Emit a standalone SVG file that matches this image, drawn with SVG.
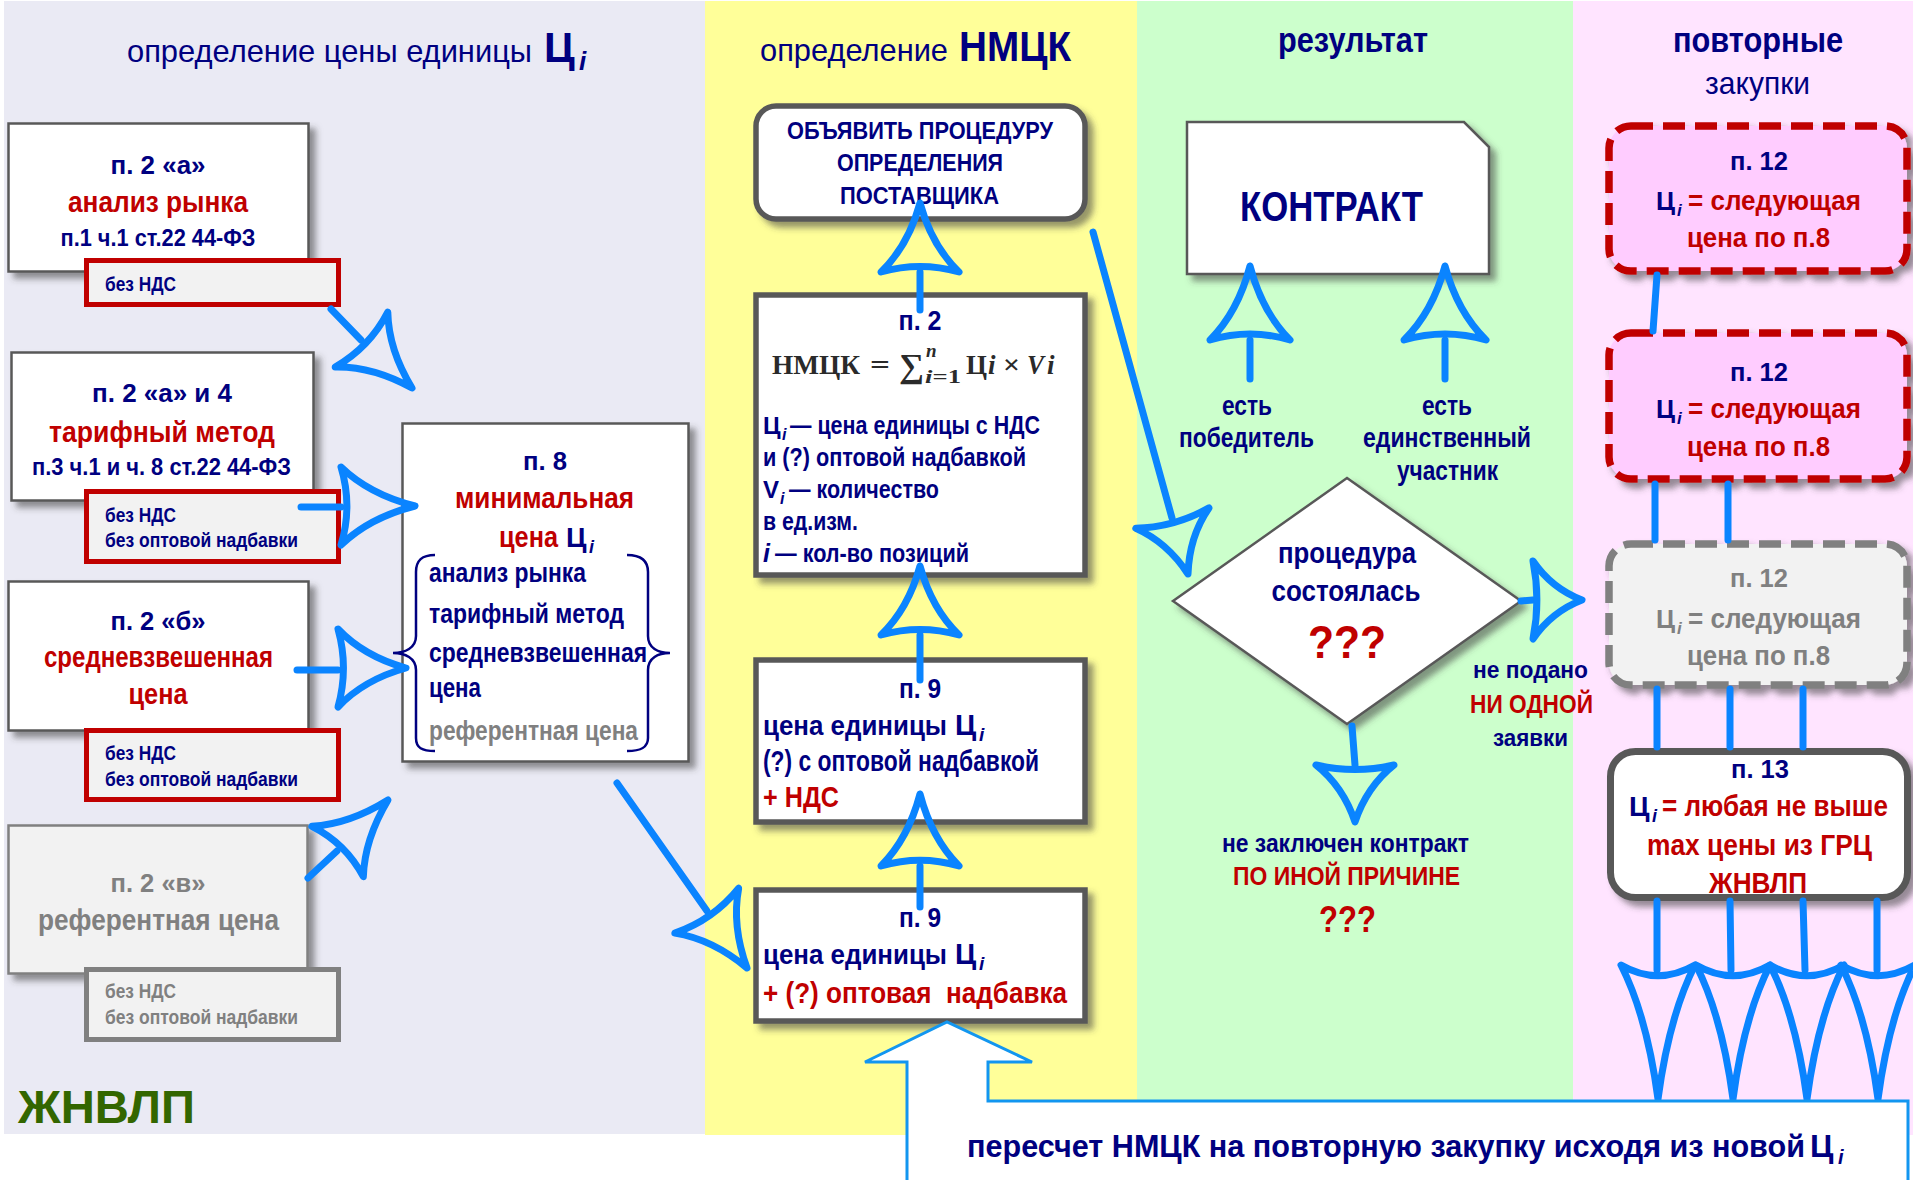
<svg xmlns="http://www.w3.org/2000/svg" width="1913" height="1180" viewBox="0 0 1913 1180">
<defs>
<filter id="sh" x="-10%" y="-10%" width="130%" height="140%">
<feDropShadow dx="6" dy="6" stdDeviation="3" flood-color="#404040" flood-opacity="0.55"/>
</filter>
<style>
.s{font-family:"Liberation Sans",Arial,sans-serif}
.sf{font-family:"Liberation Serif","Times New Roman",serif;fill:#2a2a2a}
.b{font-weight:700}
.it{font-style:italic}
.m{text-anchor:middle}
.nv{fill:#000080}
.rd{fill:#C00000}
.gr{fill:#808080}
.box{fill:#fff;stroke:#595959;stroke-width:2.5}
.tbox{fill:#fff;stroke:#595959;stroke-width:5.5}
.sub{fill:#F2F2F2;stroke:#C00000;stroke-width:5}
.subg{fill:#F2F2F2;stroke:#808080;stroke-width:5}
.pk{fill:#FFCCFF;stroke:#C00000;stroke-width:7.5;stroke-dasharray:22 10}
.pg{fill:#F2F2F2;stroke:#808080;stroke-width:7.5;stroke-dasharray:22 10}
.ln{fill:none;stroke:#0A84FF;stroke-width:7;stroke-linecap:round}
.hd{fill:none;stroke:#0A84FF;stroke-width:7;stroke-linejoin:round}
.br{fill:none;stroke:#000080;stroke-width:2.5}
</style>
</defs>

<g id="panels">
<rect x="4" y="1" width="701" height="1133" fill="#EAEAF4"/>
<rect x="705" y="1" width="432" height="1134" fill="#FFFF99"/>
<rect x="1137" y="1" width="436" height="1134" fill="#CCFFCC"/>
<rect x="1573" y="1" width="340" height="1134" fill="#FFE4FF"/>
</g>

<g id="titles">
<text class="s nv" x="127" y="62" font-size="32" textLength="405" lengthAdjust="spacingAndGlyphs">определение цены единицы</text>
<text class="s nv b" x="544" y="62" font-size="42">Ц</text>
<text class="s nv b it" x="579" y="70" font-size="26">i</text>
<text class="s nv" x="760" y="61" font-size="32" textLength="188" lengthAdjust="spacingAndGlyphs">определение</text>
<text class="s nv b" x="959" y="61" font-size="43" textLength="112" lengthAdjust="spacingAndGlyphs">НМЦК</text>
<text class="s nv b m" x="1353" y="52" font-size="35" textLength="150" lengthAdjust="spacingAndGlyphs">результат</text>
<text class="s nv b m" x="1758" y="52" font-size="35" textLength="170" lengthAdjust="spacingAndGlyphs">повторные</text>
<text class="s nv m" x="1757.5" y="94" font-size="32" textLength="105" lengthAdjust="spacingAndGlyphs">закупки</text>
<text class="s b" x="18" y="1123" font-size="46" fill="#336600" textLength="177" lengthAdjust="spacingAndGlyphs">ЖНВЛП</text>
</g>

<g id="n-2a">
<rect class="box" x="8.5" y="123.5" width="300" height="148" filter="url(#sh)"/>
<text class="s b nv m" x="158" y="174" font-size="26" textLength="95" lengthAdjust="spacingAndGlyphs">п. 2 «а»</text>
<text class="s b rd m" x="158" y="212" font-size="29" textLength="180" lengthAdjust="spacingAndGlyphs">анализ рынка</text>
<text class="s b nv m" x="158" y="246" font-size="23" textLength="195" lengthAdjust="spacingAndGlyphs">п.1 ч.1 ст.22 44-ФЗ</text>
<rect class="sub" x="86.5" y="260.5" width="252" height="44"/>
<text class="s b nv" x="105" y="291" font-size="20" textLength="71" lengthAdjust="spacingAndGlyphs">без НДС</text>
</g>

<g id="n-2a4">
<rect class="box" x="11.5" y="352.5" width="302" height="148" filter="url(#sh)"/>
<text class="s b nv m" x="162" y="402" font-size="26" textLength="140" lengthAdjust="spacingAndGlyphs">п. 2 «а» и 4</text>
<text class="s b rd m" x="162" y="442" font-size="29" textLength="226" lengthAdjust="spacingAndGlyphs">тарифный метод</text>
<text class="s b nv m" x="161.5" y="475" font-size="23" textLength="259" lengthAdjust="spacingAndGlyphs">п.3 ч.1 и ч. 8 ст.22 44-ФЗ</text>
<rect class="sub" x="86.5" y="491.5" width="252" height="70"/>
<text class="s b nv" x="105" y="522" font-size="20" textLength="71" lengthAdjust="spacingAndGlyphs">без НДС</text>
<text class="s b nv" x="105" y="547" font-size="20" textLength="193" lengthAdjust="spacingAndGlyphs">без оптовой надбавки</text>
</g>

<g id="n-2b">
<rect class="box" x="8.5" y="581.5" width="300" height="149" filter="url(#sh)"/>
<text class="s b nv m" x="158" y="630" font-size="26" textLength="95" lengthAdjust="spacingAndGlyphs">п. 2 «б»</text>
<text class="s b rd m" x="158.5" y="667" font-size="29" textLength="229" lengthAdjust="spacingAndGlyphs">средневзвешенная</text>
<text class="s b rd m" x="158" y="704" font-size="29" textLength="59" lengthAdjust="spacingAndGlyphs">цена</text>
<rect class="sub" x="86.5" y="730.5" width="252" height="69"/>
<text class="s b nv" x="105" y="760" font-size="20" textLength="71" lengthAdjust="spacingAndGlyphs">без НДС</text>
<text class="s b nv" x="105" y="786" font-size="20" textLength="193" lengthAdjust="spacingAndGlyphs">без оптовой надбавки</text>
</g>

<g id="n-2v">
<rect x="8.5" y="825.5" width="299" height="148" fill="#F2F2F2" stroke="#808080" stroke-width="2.5" filter="url(#sh)"/>
<text class="s b gr m" x="158" y="892" font-size="26" textLength="95" lengthAdjust="spacingAndGlyphs">п. 2 «в»</text>
<text class="s b gr m" x="158.5" y="930" font-size="29" textLength="241" lengthAdjust="spacingAndGlyphs">референтная цена</text>
<rect class="subg" x="86.5" y="969.5" width="252" height="70"/>
<text class="s b gr" x="105" y="998" font-size="20" textLength="71" lengthAdjust="spacingAndGlyphs">без НДС</text>
<text class="s b gr" x="105" y="1024" font-size="20" textLength="193" lengthAdjust="spacingAndGlyphs">без оптовой надбавки</text>
</g>

<g id="n-8">
<rect class="box" x="402.5" y="423.5" width="286" height="338" filter="url(#sh)"/>
<text class="s b nv m" x="545" y="470" font-size="26" textLength="44" lengthAdjust="spacingAndGlyphs">п. 8</text>
<text class="s b rd m" x="544.5" y="508" font-size="29" textLength="179" lengthAdjust="spacingAndGlyphs">минимальная</text>
<text class="s b rd" x="499" y="547" font-size="29" textLength="59" lengthAdjust="spacingAndGlyphs">цена</text>
<text class="s b nv" x="566" y="547" font-size="28">Ц</text>
<text class="s b nv it" x="589" y="553" font-size="18">i</text>
<path class="br" d="M435,555 C422,555 416,560 416,572 L416,636 C416,648 405,653 393,653 C405,653 416,658 416,670 L416,738 C416,748 422,751 435,751"/>
<path class="br" d="M627,555 C640,555 648,560 648,572 L648,636 C648,648 658,653 670,653 C658,653 648,658 648,670 L648,738 C648,748 640,751 627,751"/>
<text class="s b nv" x="429" y="582" font-size="27" textLength="157" lengthAdjust="spacingAndGlyphs">анализ рынка</text>
<text class="s b nv" x="429" y="623" font-size="27" textLength="195" lengthAdjust="spacingAndGlyphs">тарифный метод</text>
<text class="s b nv" x="429" y="662" font-size="27" textLength="218" lengthAdjust="spacingAndGlyphs">средневзвешенная</text>
<text class="s b nv" x="429" y="697" font-size="27" textLength="52" lengthAdjust="spacingAndGlyphs">цена</text>
<text class="s b gr" x="429" y="740" font-size="27" textLength="209" lengthAdjust="spacingAndGlyphs">референтная цена</text>
</g>

<g id="n-announce">
<rect class="tbox" x="756" y="106" width="329" height="113" rx="20" filter="url(#sh)"/>
<text class="s b nv m" x="920" y="139" font-size="23" textLength="266" lengthAdjust="spacingAndGlyphs">ОБЪЯВИТЬ ПРОЦЕДУРУ</text>
<text class="s b nv m" x="920" y="171" font-size="23" textLength="166" lengthAdjust="spacingAndGlyphs">ОПРЕДЕЛЕНИЯ</text>
<text class="s b nv m" x="919.5" y="204" font-size="23" textLength="159" lengthAdjust="spacingAndGlyphs">ПОСТАВЩИКА</text>
</g>

<g id="n-p2">
<rect class="tbox" x="756" y="295" width="329" height="280" filter="url(#sh)"/>
<text class="s b nv m" x="920" y="330" font-size="27" textLength="43" lengthAdjust="spacingAndGlyphs">п. 2</text>
<text class="sf b" x="772" y="374" font-size="27" textLength="88" lengthAdjust="spacingAndGlyphs">НМЦК</text>
<text class="sf b" x="870" y="374" font-size="27" textLength="20" lengthAdjust="spacingAndGlyphs">=</text>
<text class="sf b" x="899" y="377" font-size="34" textLength="25" lengthAdjust="spacingAndGlyphs">∑</text>
<text class="sf it b" x="926" y="357" font-size="19">n</text>
<text class="sf b" x="925" y="383" font-size="19" textLength="36" lengthAdjust="spacingAndGlyphs"><tspan font-style="italic">i</tspan>=1</text>
<text class="sf b" x="966" y="374" font-size="27" textLength="21" lengthAdjust="spacingAndGlyphs">Ц</text>
<text class="sf it b" x="988" y="374" font-size="27">i</text>
<text class="sf b" x="1003" y="374" font-size="27" textLength="17" lengthAdjust="spacingAndGlyphs">×</text>
<text class="sf it b" x="1027" y="374" font-size="27" textLength="17" lengthAdjust="spacingAndGlyphs">V</text>
<text class="sf it b" x="1047" y="374" font-size="27">i</text>
<text class="s b nv" x="763" y="434" font-size="24">Ц</text>
<text class="s b nv it" x="782" y="440" font-size="16">i</text>
<text class="s b nv" x="790" y="434" font-size="25" textLength="250" lengthAdjust="spacingAndGlyphs">— цена единицы с НДС</text>
<text class="s b nv" x="763" y="466" font-size="25" textLength="263" lengthAdjust="spacingAndGlyphs">и (?) оптовой надбавкой</text>
<text class="s b nv" x="763" y="498" font-size="24">V</text>
<text class="s b nv it" x="780" y="504" font-size="16">i</text>
<text class="s b nv" x="789" y="498" font-size="25" textLength="150" lengthAdjust="spacingAndGlyphs">— количество</text>
<text class="s b nv" x="763" y="530" font-size="25" textLength="95" lengthAdjust="spacingAndGlyphs">в ед.изм.</text>
<text class="s b nv it" x="763" y="562" font-size="25">i</text>
<text class="s b nv" x="775" y="562" font-size="25" textLength="194" lengthAdjust="spacingAndGlyphs">— кол-во позиций</text>
</g>

<g id="n-p9a">
<rect class="tbox" x="756" y="660" width="329" height="162" filter="url(#sh)"/>
<text class="s b nv m" x="920" y="698" font-size="27" textLength="42" lengthAdjust="spacingAndGlyphs">п. 9</text>
<text class="s b nv" x="763" y="735" font-size="27.5" textLength="184" lengthAdjust="spacingAndGlyphs">цена единицы</text>
<text class="s b nv" x="955" y="735" font-size="29">Ц</text>
<text class="s b nv it" x="979" y="741" font-size="19">i</text>
<text class="s b nv" x="763" y="771" font-size="30" textLength="276" lengthAdjust="spacingAndGlyphs">(?) с оптовой надбавкой</text>
<text class="s b rd" x="763" y="807" font-size="30" textLength="76" lengthAdjust="spacingAndGlyphs">+ НДС</text>
</g>

<g id="n-p9b">
<rect class="tbox" x="756" y="890" width="329" height="131" filter="url(#sh)"/>
<text class="s b nv m" x="920" y="927" font-size="27" textLength="42" lengthAdjust="spacingAndGlyphs">п. 9</text>
<text class="s b nv" x="763" y="964" font-size="27.5" textLength="184" lengthAdjust="spacingAndGlyphs">цена единицы</text>
<text class="s b nv" x="955" y="964" font-size="29">Ц</text>
<text class="s b nv it" x="979" y="970" font-size="19">i</text>
<text class="s b rd" x="763" y="1003" font-size="30" textLength="304" lengthAdjust="spacingAndGlyphs" xml:space="preserve">+ (?) оптовая  надбавка</text>
</g>

<g id="n-contract">
<path class="box" d="M1187,122 L1464,122 L1489,147 L1489,274 L1187,274 Z" filter="url(#sh)"/>
<text class="s b nv m" x="1331.5" y="221" font-size="43" textLength="183" lengthAdjust="spacingAndGlyphs">КОНТРАКТ</text>
</g>

<g id="n-decision">
<polygon class="box" points="1347,478 1521,601 1347,724 1173,601" filter="url(#sh)"/>
<text class="s b nv m" x="1347" y="563" font-size="29" textLength="138" lengthAdjust="spacingAndGlyphs">процедура</text>
<text class="s b nv m" x="1346" y="601" font-size="29" textLength="149" lengthAdjust="spacingAndGlyphs">состоялась</text>
<text class="s b rd m" x="1347" y="658" font-size="46" textLength="78" lengthAdjust="spacingAndGlyphs">???</text>
</g>

<g id="labels">
<text class="s b nv m" x="1247" y="415" font-size="28" textLength="50" lengthAdjust="spacingAndGlyphs">есть</text>
<text class="s b nv m" x="1246.5" y="447" font-size="28" textLength="135" lengthAdjust="spacingAndGlyphs">победитель</text>
<text class="s b nv m" x="1447" y="415" font-size="28" textLength="50" lengthAdjust="spacingAndGlyphs">есть</text>
<text class="s b nv m" x="1447" y="447" font-size="28" textLength="168" lengthAdjust="spacingAndGlyphs">единственный</text>
<text class="s b nv m" x="1447.5" y="480" font-size="28" textLength="101" lengthAdjust="spacingAndGlyphs">участник</text>
<text class="s b nv m" x="1345.5" y="852" font-size="26" textLength="247" lengthAdjust="spacingAndGlyphs">не заключен контракт</text>
<text class="s b rd m" x="1346.5" y="885" font-size="25" textLength="227" lengthAdjust="spacingAndGlyphs">ПО ИНОЙ ПРИЧИНЕ</text>
<text class="s b rd m" x="1347.5" y="932" font-size="37" textLength="57" lengthAdjust="spacingAndGlyphs">???</text>
<text class="s b nv m" x="1530.5" y="678" font-size="23" textLength="115" lengthAdjust="spacingAndGlyphs">не подано</text>
<text class="s b rd m" x="1531.5" y="713" font-size="25" textLength="123" lengthAdjust="spacingAndGlyphs">НИ ОДНОЙ</text>
<text class="s b nv m" x="1530.5" y="746" font-size="23" textLength="75" lengthAdjust="spacingAndGlyphs">заявки</text>
</g>

<g id="n-p12a">
<rect class="pk" x="1609" y="126" width="298" height="145" rx="22" filter="url(#sh)"/>
<text class="s b nv m" x="1759" y="170" font-size="26" textLength="58" lengthAdjust="spacingAndGlyphs">п. 12</text>
<text class="s b nv" x="1656" y="210" font-size="26">Ц</text>
<text class="s b nv it" x="1677" y="216" font-size="17">i</text>
<text class="s b rd" x="1688" y="210" font-size="27" textLength="173" lengthAdjust="spacingAndGlyphs">= следующая</text>
<text class="s b rd m" x="1758.5" y="247" font-size="27" textLength="143" lengthAdjust="spacingAndGlyphs">цена по п.8</text>
</g>

<g id="n-p12b">
<rect class="pk" x="1609" y="333" width="298" height="146" rx="22" filter="url(#sh)"/>
<text class="s b nv m" x="1759" y="381" font-size="26" textLength="58" lengthAdjust="spacingAndGlyphs">п. 12</text>
<text class="s b nv" x="1656" y="418" font-size="26">Ц</text>
<text class="s b nv it" x="1677" y="424" font-size="17">i</text>
<text class="s b rd" x="1688" y="418" font-size="27" textLength="173" lengthAdjust="spacingAndGlyphs">= следующая</text>
<text class="s b rd m" x="1758.5" y="456" font-size="27" textLength="143" lengthAdjust="spacingAndGlyphs">цена по п.8</text>
</g>

<g id="n-p12c">
<rect class="pg" x="1609" y="544" width="298" height="141" rx="22" filter="url(#sh)"/>
<text class="s b gr m" x="1759" y="587" font-size="26" textLength="58" lengthAdjust="spacingAndGlyphs">п. 12</text>
<text class="s b gr" x="1656" y="628" font-size="26">Ц</text>
<text class="s b gr it" x="1677" y="634" font-size="17">i</text>
<text class="s b gr" x="1688" y="628" font-size="27" textLength="173" lengthAdjust="spacingAndGlyphs">= следующая</text>
<text class="s b gr m" x="1758.5" y="665" font-size="27" textLength="143" lengthAdjust="spacingAndGlyphs">цена по п.8</text>
</g>

<g id="n-p13">
<rect x="1610.5" y="751.5" width="297" height="146" rx="25" fill="#fff" stroke="#595959" stroke-width="7" filter="url(#sh)"/>
<text class="s b nv m" x="1760" y="778" font-size="26" textLength="58" lengthAdjust="spacingAndGlyphs">п. 13</text>
<text class="s b nv" x="1629" y="816" font-size="28">Ц</text>
<text class="s b nv it" x="1652" y="822" font-size="18">i</text>
<text class="s b rd" x="1662" y="816" font-size="29" textLength="226" lengthAdjust="spacingAndGlyphs">= любая не выше</text>
<text class="s b rd m" x="1759.5" y="855" font-size="29" textLength="225" lengthAdjust="spacingAndGlyphs">max цены из ГРЦ</text>
<text class="s b rd m" x="1758" y="893" font-size="29" textLength="98" lengthAdjust="spacingAndGlyphs">ЖНВЛП</text>
</g>

<g id="connectors">
<line class="ln" x1="331" y1="309" x2="361" y2="340"/>
<path class="hd" transform="translate(412,388) rotate(133.8)" d="M-38,70 Q-11.4,43.4 0,0 Q11.4,43.4 38,70 Q0,58.8 -38,70Z"/>
<line class="ln" x1="301" y1="507" x2="341" y2="507"/>
<path class="hd" transform="translate(415,506) rotate(90)" d="M-39,74 Q-11.7,45.9 0,0 Q11.7,45.9 39,74 Q0,62.2 -39,74Z"/>
<line class="ln" x1="297" y1="670" x2="338" y2="670"/>
<path class="hd" transform="translate(406,668) rotate(90)" d="M-39,68 Q-11.7,42.2 0,0 Q11.7,42.2 39,68 Q0,57.1 -39,68Z"/>
<line class="ln" x1="308" y1="878" x2="337" y2="851"/>
<path class="hd" transform="translate(388,800) rotate(44.4)" d="M-36,72 Q-10.8,44.6 0,0 Q10.8,44.6 36,72 Q0,60.5 -36,72Z"/>
<line class="ln" x1="617" y1="783" x2="707" y2="911"/>
<path class="hd" transform="translate(747,968) rotate(144.9)" d="M-39,70 Q-11.7,43.4 0,0 Q11.7,43.4 39,70 Q0,58.8 -39,70Z"/>
<line class="ln" x1="920" y1="310" x2="920" y2="272"/>
<path class="hd" transform="translate(920,203)" d="M-39,69 Q-11.7,42.8 0,0 Q11.7,42.8 39,69 Q0,58 -39,69Z"/>
<line class="ln" x1="920" y1="680" x2="920" y2="635"/>
<path class="hd" transform="translate(920,566)" d="M-39,69 Q-11.7,42.8 0,0 Q11.7,42.8 39,69 Q0,58 -39,69Z"/>
<line class="ln" x1="920" y1="907" x2="920" y2="866"/>
<path class="hd" transform="translate(920,794)" d="M-39,72 Q-11.7,44.6 0,0 Q11.7,44.6 39,72 Q0,60.5 -39,72Z"/>
<line class="ln" x1="1093" y1="232" x2="1172" y2="518"/>
<path class="hd" transform="translate(1188,574) rotate(164.4)" d="M-38,58 Q-11.4,36 0,0 Q11.4,36 38,58 Q0,48.7 -38,58Z"/>
<line class="ln" x1="1250" y1="379" x2="1250" y2="340"/>
<path class="hd" transform="translate(1250,266)" d="M-40,74 Q-12,45.9 0,0 Q12,45.9 40,74 Q0,62.2 -40,74Z"/>
<line class="ln" x1="1445" y1="379" x2="1445" y2="340"/>
<path class="hd" transform="translate(1445,266)" d="M-41,74 Q-12.3,45.9 0,0 Q12.3,45.9 41,74 Q0,62.2 -41,74Z"/>
<line class="ln" x1="1352" y1="726" x2="1355" y2="765"/>
<path class="hd" transform="translate(1355,822) rotate(180)" d="M-39,57 Q-11.7,35.3 0,0 Q11.7,35.3 39,57 Q0,47.9 -39,57Z"/>
<line class="ln" x1="1521" y1="601" x2="1533" y2="600"/>
<path class="hd" transform="translate(1582,600) rotate(90)" d="M-39,49 Q-11.7,30.4 0,0 Q11.7,30.4 39,49 Q0,41.2 -39,49Z"/>
<line class="ln" x1="1657" y1="275" x2="1653" y2="331" stroke-width="6"/>
<line class="ln" x1="1655" y1="484" x2="1655" y2="540" stroke-width="6"/>
<line class="ln" x1="1728" y1="484" x2="1728" y2="540" stroke-width="6"/>
<line class="ln" x1="1657" y1="689" x2="1657" y2="747" stroke-width="6"/>
<line class="ln" x1="1730" y1="689" x2="1730" y2="747" stroke-width="6"/>
<line class="ln" x1="1803" y1="689" x2="1803" y2="747" stroke-width="6"/>
<line class="ln" x1="1657" y1="901" x2="1657" y2="970" stroke-width="6"/>
<line class="ln" x1="1730" y1="901" x2="1731" y2="970" stroke-width="6"/>
<line class="ln" x1="1803" y1="901" x2="1805" y2="970" stroke-width="6"/>
<line class="ln" x1="1877" y1="901" x2="1877" y2="970" stroke-width="6"/>
<path class="hd" stroke-width="9" transform="translate(1658,1099) rotate(180)" d="M-37,134 Q-11.1,83.1 0,0 Q11.1,83.1 37,134 Q0,112.6 -37,134Z"/>
<path class="hd" stroke-width="9" transform="translate(1733,1099) rotate(180)" d="M-37,134 Q-11.1,83.1 0,0 Q11.1,83.1 37,134 Q0,112.6 -37,134Z"/>
<path class="hd" stroke-width="9" transform="translate(1807,1099) rotate(180)" d="M-37,134 Q-11.1,83.1 0,0 Q11.1,83.1 37,134 Q0,112.6 -37,134Z"/>
<path class="hd" stroke-width="9" transform="translate(1878,1099) rotate(180)" d="M-37,134 Q-11.1,83.1 0,0 Q11.1,83.1 37,134 Q0,112.6 -37,134Z"/>
</g>

<g id="n-recalc">
<path d="M907,1182 L907,1062 L865,1062 L947,1022 L1032,1062 L988,1062 L988,1101 L1908,1101 L1908,1182 Z" fill="#fff" stroke="#1296F0" stroke-width="3"/>
<text class="s b nv" x="967" y="1157" font-size="30.5" textLength="838" lengthAdjust="spacingAndGlyphs">пересчет НМЦК на повторную закупку исходя из новой</text>
<text class="s b nv" x="1810" y="1157" font-size="32">Ц</text>
<text class="s b nv it" x="1838" y="1164" font-size="20">i</text>
</g>
</svg>
